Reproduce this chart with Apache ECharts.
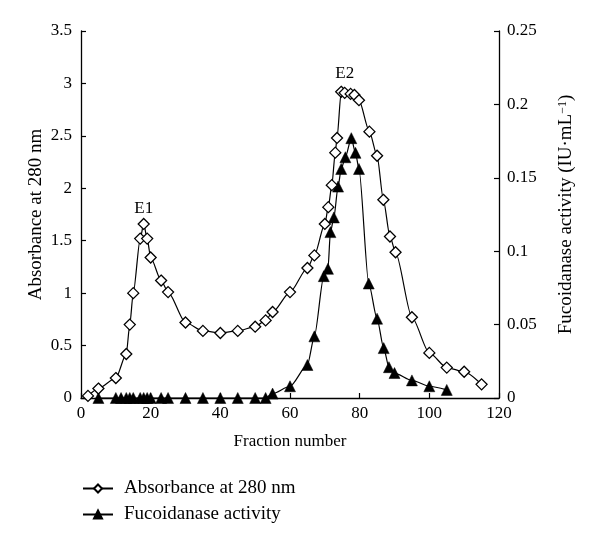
<!DOCTYPE html>
<html>
<head>
<meta charset="utf-8">
<script src="https://cdn.jsdelivr.net/npm/echarts@6/dist/echarts.min.js"></script>
<style>html,body{margin:0;padding:0;background:#fff;}#c{width:600px;height:543px;}</style>
</head>
<body>
<div id="c"></div>
<script>
const xTicks = [0, 20, 40, 60, 80, 100, 120];
const fractionAbs = [2, 5, 10, 13, 14, 15, 17, 18, 19, 20, 23, 25, 30, 35, 40, 45, 50, 53, 55, 60, 65, 67, 70, 71, 72, 73, 73.5, 74.7, 75.7, 77.4, 78.5, 79.8, 82.8, 85, 86.8, 88.7, 90.3, 95, 100, 105, 110, 115];
const absorbance  = [0.02, 0.09, 0.19, 0.42, 0.70, 1.00, 1.52, 1.66, 1.52, 1.34, 1.12, 1.01, 0.72, 0.64, 0.62, 0.64, 0.68, 0.74, 0.82, 1.01, 1.24, 1.36, 1.66, 1.82, 2.03, 2.34, 2.48, 2.92, 2.91, 2.90, 2.89, 2.84, 2.54, 2.31, 1.89, 1.54, 1.39, 0.77, 0.43, 0.29, 0.25, 0.13];
const fractionAct = [5, 10, 11.5, 13, 14, 15, 17, 18, 19, 20, 23, 25, 30, 35, 40, 45, 50, 53, 55, 60, 65, 67, 69.7, 70.9, 71.6, 72.6, 73.8, 74.7, 75.9, 77.6, 78.8, 79.8, 82.6, 85, 86.9, 88.4, 90, 95, 100, 105];
const activity    = [0, 0, 0, 0, 0, 0, 0, 0, 0, 0, 0, 0, 0, 0, 0, 0, 0, 0, 0.003, 0.008, 0.0225, 0.042, 0.083, 0.088, 0.113, 0.123, 0.144, 0.156, 0.164, 0.177, 0.167, 0.156, 0.078, 0.054, 0.034, 0.021, 0.017, 0.012, 0.008, 0.0055];
const peakLabels = { 7: 'E1', 28: 'E2' };
const peakLabelDistance = { 7: 1, 28: 5 };

const FONT = 'Liberation Serif';
const absData = fractionAbs.map((x, i) => {
  const item = { value: [x, absorbance[i]] };
  if (peakLabels[i]) {
    item.label = { show: true, formatter: peakLabels[i], position: 'top', distance: peakLabelDistance[i],
      color: '#000', fontFamily: FONT, fontSize: 17 };
  }
  return item;
});
const actData = fractionAct.map((x, i) => [x, activity[i]]);

const chart = echarts.init(document.getElementById('c'), null, { renderer: 'canvas' });
const axisCommon = {
  axisLine: { show: true, lineStyle: { color: '#000', width: 1.3 } },
  axisTick: { show: true, inside: true, length: 5, lineStyle: { color: '#000', width: 1.2 } },
  splitLine: { show: false },
  nameMoveOverlap: false,
  axisLabel: { color: '#000', fontFamily: FONT, fontSize: 17 },
  nameTextStyle: { color: '#000', fontFamily: FONT, fontSize: 17 }
};
chart.setOption({
  animation: false,
  backgroundColor: '#fff',
  textStyle: { fontFamily: FONT },
  grid: { left: 81, right: 101, top: 31, bottom: 145 },
  legend: {
    orient: 'vertical', left: 82, top: 479, itemGap: 7, padding: 0,
    itemWidth: 30, itemHeight: 10,
    textStyle: { color: '#000', fontFamily: FONT, fontSize: 19, padding: [0, 0, 0, 6] },
    data: ['Absorbance at 280 nm', 'Fucoidanase activity']
  },
  xAxis: Object.assign({}, axisCommon, {
    type: 'value', min: xTicks[0], max: xTicks[xTicks.length - 1], interval: 20,
    name: 'Fraction number', nameLocation: 'middle', nameGap: 35,
    axisLabel: Object.assign({}, axisCommon.axisLabel, { margin: 7 })
  }),
  yAxis: [
    Object.assign({}, axisCommon, {
      type: 'value', min: 0, max: 3.5, interval: 0.5, position: 'left',
      name: 'Absorbance at 280 nm', nameLocation: 'middle', nameGap: 35, nameRotate: 90,
      nameTextStyle: { color: '#000', fontFamily: FONT, fontSize: 19 },
      axisLabel: Object.assign({}, axisCommon.axisLabel, { margin: 9 })
    }),
    Object.assign({}, axisCommon, {
      type: 'value', min: 0, max: 0.25, interval: 0.05, position: 'right',
      name: 'Fucoidanase activity (IU·mL{sup|−1})', nameLocation: 'middle', nameGap: 58, nameRotate: 90,
      nameTextStyle: { color: '#000', fontFamily: FONT, fontSize: 19,
        rich: { sup: { fontFamily: FONT, fontSize: 12, verticalAlign: 'top', lineHeight: 10, color: '#000' } } },
      axisLabel: Object.assign({}, axisCommon.axisLabel, { margin: 8 })
    })
  ],
  series: [
    {
      name: 'Fucoidanase activity', type: 'line', yAxisIndex: 1, data: actData,
      symbol: 'triangle', symbolSize: 11, clip: false,
      smooth: 0.25, smoothMonotone: 'x',
      lineStyle: { color: '#000', width: 1.2 },
      itemStyle: { color: '#000', borderColor: '#000', borderWidth: 0.5 }
    },
    {
      name: 'Absorbance at 280 nm', type: 'line', yAxisIndex: 0, data: absData,
      symbol: 'diamond', symbolSize: 11, clip: false,
      smooth: 0.25, smoothMonotone: 'x',
      lineStyle: { color: '#000', width: 1.2 },
      itemStyle: { color: '#fff', borderColor: '#000', borderWidth: 1.3 }
    }
  ]
});
</script>
</body>
</html>
